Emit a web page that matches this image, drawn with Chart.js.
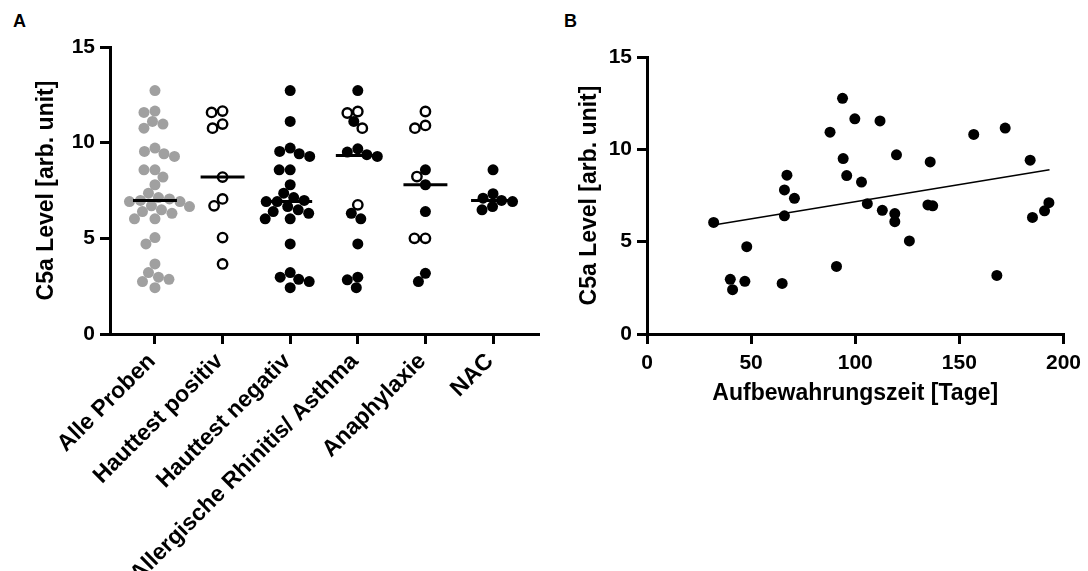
<!DOCTYPE html>
<html><head><meta charset="utf-8">
<script src="https://cdn.jsdelivr.net/npm/chart.js@4/dist/chart.umd.min.js"></script>
<style>
html,body{margin:0;padding:0;background:#fff;width:1088px;height:571px;overflow:hidden}
#wa{position:absolute;left:0;top:0;width:550px;height:571px}
#wb{position:absolute;left:550px;top:0;width:538px;height:571px}
.lbl{position:absolute;font:bold 18px "Liberation Sans",Arial,sans-serif;color:#000}
</style></head><body>
<div class="lbl" style="left:13px;top:11px">A</div>
<div class="lbl" style="left:564px;top:11px">B</div>
<div id="wa"><canvas id="ca" width="550" height="571"></canvas></div>
<div id="wb"><canvas id="cb" width="538" height="571"></canvas></div>
<script>
// ---------- Panel A data ----------
const categories = ['Alle Proben','Hauttest positiv','Hauttest negativ','Allergische Rhinitis/ Asthma','Anaphylaxie','NAC'];
const alleProben = [12.72,11.65,11.58,11.11,10.97,10.76,9.72,9.54,9.42,9.28,8.58,8.58,8.2,7.80,7.36,7.13,7.06,6.98,6.92,6.92,6.70,6.66,6.49,6.40,6.31,6.02,6.02,5.04,4.71,3.66,3.21,2.97,2.86,2.74,2.42];
const hauttestPositiv = [11.58,11.65,10.97,10.76,8.2,7.06,6.70,5.04,3.66];
const hauttestNegativ = [12.72,11.11,9.72,9.54,9.42,9.28,8.58,8.58,7.80,7.36,7.13,6.98,6.92,6.92,6.66,6.49,6.40,6.31,6.02,6.02,4.71,3.21,2.97,2.86,2.74,2.42];
const allergieOffen = [11.63,11.55,10.76,6.75];
const allergieVoll = [12.72,11.11,9.68,9.51,9.37,9.28,6.31,6.02,4.71,2.97,2.83,2.42];
const anaphylaxieOffen = [11.63,10.9,10.76,8.23,5.0,5.0];
const anaphylaxieVoll = [8.58,7.80,6.40,3.17,2.74];
const nacVoll = [8.58,7.33,7.10,6.98,6.92,6.66,6.49];
const yTicksA = [0,5,10,15];

// ---------- Panel B data ----------
const tage = [32.0,67.2,66.0,70.8,66.0,47.9,40.0,41.1,47.0,64.9,91.0,93.9,87.9,94.2,95.9,99.8,111.9,103.0,119.8,105.8,113.0,119.0,119.0,126.0,136.0,134.9,137.2,156.9,172.0,168.0,184.0,185.1,190.9,193.0];
const c5aLevel = [6.04,8.60,7.80,7.35,6.40,4.73,2.96,2.40,2.85,2.74,3.66,12.76,10.93,9.50,8.58,11.65,11.54,8.23,9.70,7.06,6.70,6.52,6.08,5.04,9.32,6.99,6.94,10.81,11.15,3.17,9.41,6.31,6.67,7.11];
const fitTage = [32, 193.3];
const fitLevel = [5.90, 8.89];
const xTicksB = [0,50,100,150,200];
const yTicksB = [0,5,10,15];

// ---------- shared styling ----------
const FAM = '"Liberation Sans", Arial, Helvetica, sans-serif';
const tickFont = {family:FAM, weight:'bold', size:21};
const catFont = {family:FAM, weight:'bold', size:23};
const titleFont = {family:FAM, weight:'bold', size:23};
const gridOpt = {display:true, drawOnChartArea:false, drawTicks:true, tickLength:10, lineWidth:3, color:'#000'};
const borderOpt = {display:true, width:3, color:'#000'};

const groupsA = [
  {gray: alleProben, open: [], filled: []},
  {gray: [], open: hauttestPositiv, filled: []},
  {gray: [], open: [], filled: hauttestNegativ},
  {gray: [], open: allergieOffen, filled: allergieVoll},
  {gray: [], open: anaphylaxieOffen, filled: anaphylaxieVoll},
  {gray: [], open: [], filled: nacVoll}
];

function median(a){
  const s = a.slice().sort((p,q)=>p-q); const n = s.length;
  return n % 2 ? s[(n-1)/2] : (s[n/2-1]+s[n/2])/2;
}

const grayPts = [], openPts = [], filledPts = [];
groupsA.forEach((g, gi) => {
  g.gray.forEach(v => grayPts.push({x:gi, y:v, g:gi}));
  g.open.forEach(v => openPts.push({x:gi, y:v, g:gi}));
  g.filled.forEach(v => filledPts.push({x:gi, y:v, g:gi}));
});

const medianSets = groupsA.map((g, gi) => {
  const m = median(g.gray.concat(g.open, g.filled));
  return {type:'line', data:[{x:gi-0.325, y:m},{x:gi+0.325, y:m}], borderColor:'#000', borderWidth:3,
          pointRadius:0, fill:false, order:0};
});

const chartA = new Chart(document.getElementById('ca'), {
  type: 'scatter',
  data: {
    datasets: [
      ...medianSets,
      {data: grayPts, pointRadius:5.5, pointBackgroundColor:'#a0a0a0', pointBorderColor:'#a0a0a0', pointBorderWidth:0, order:1},
      {data: openPts, pointRadius:4.7, pointBackgroundColor:'#fff', pointBorderColor:'#000', pointBorderWidth:2.4, order:1},
      {data: filledPts, pointRadius:5.5, pointBackgroundColor:'#000', pointBorderColor:'#000', pointBorderWidth:0, order:1}
    ]
  },
  options: {
    responsive:false, animation:false, events:[],
    layout: {padding:{top:47, right:12, left:0, bottom:0}},
    plugins: {legend:{display:false}, tooltip:{enabled:false}},
    scales: {
      x: {
        type:'linear', min:-0.665, max:5.665,
        afterBuildTicks: s => { s.ticks = categories.map((c,i)=>({value:i})); },
        afterFit: s => { s.height = 237; },
        ticks: {autoSkip:false, minRotation:45, maxRotation:45, font:catFont, color:'#000', padding:4, labelOffset:-3,
                callback: v => categories[v]},
        grid: gridOpt, border: borderOpt
      },
      y: {
        min:0, max:15,
        afterBuildTicks: s => { s.ticks = yTicksA.map(v=>({value:v})); },
        afterFit: s => { s.width = 110; },
        ticks: {font:tickFont, color:'#000', padding:5},
        grid: gridOpt, border: borderOpt,
        title: {display:true, text:'C5a Level [arb. unit]', font:titleFont, color:'#000', padding:{top:33, bottom:0}}
      }
    }
  }
});

// beeswarm layout (horizontal spreading of the points in each group)
(function swarm(chart){
  const xs = chart.scales.x, ys = chart.scales.y;
  const pxPerUnit = xs.getPixelForValue(1) - xs.getPixelForValue(0);
  const D = 10.6;
  groupsA.forEach((g, gi) => {
    const pts = grayPts.concat(openPts, filledPts).filter(p => p.g === gi)
      .sort((a,b) => b.y - a.y);
    const placed = [];
    pts.forEach(p => {
      const py = ys.getPixelForValue(p.y);
      let off = 0;
      for (let k = 0; k < 400; k++) {
        const o = (k % 2 ? -1 : 1) * Math.ceil(k/2) * 0.5;
        if (placed.every(q => Math.hypot(q.x - o, q.y - py) >= D)) { off = o; break; }
      }
      placed.push({x:off, y:py});
      p.x = gi + off / pxPerUnit;
    });
  });
  chart.update('none');
})(chartA);

// ---------- Panel B ----------
const pointsB = tage.map((t,i)=>({x:t, y:c5aLevel[i]}));
const fitB = fitTage.map((t,i)=>({x:t, y:fitLevel[i]}));

new Chart(document.getElementById('cb'), {
  type:'scatter',
  data: {
    datasets: [
      {type:'line', data: fitB, borderColor:'#000', borderWidth:1.6, pointRadius:0, fill:false, order:0},
      {data: pointsB, pointRadius:5.5, pointBackgroundColor:'#000', pointBorderColor:'#000', pointBorderWidth:0, order:1}
    ]
  },
  options: {
    responsive:false, animation:false, events:[],
    layout: {padding:{top:57, right:21, left:0, bottom:0}},
    plugins: {legend:{display:false}, tooltip:{enabled:false}},
    scales: {
      x: {
        type:'linear', min:0, max:200,
        afterBuildTicks: s => { s.ticks = xTicksB.map(v=>({value:v})); },
        afterFit: s => { s.height = 237; },
        ticks: {font:tickFont, color:'#000', padding:7, maxRotation:0},
        grid: gridOpt, border: borderOpt,
        title: {display:true, text:'Aufbewahrungszeit [Tage]', font:titleFont, color:'#000', padding:{top:0, bottom:164}}
      },
      y: {
        min:0, max:15,
        afterBuildTicks: s => { s.ticks = yTicksB.map(v=>({value:v})); },
        afterFit: s => { s.width = 97; },
        ticks: {font:tickFont, color:'#000', padding:5},
        grid: gridOpt, border: borderOpt,
        title: {display:true, text:'C5a Level [arb. unit]', font:titleFont, color:'#000', padding:{top:26, bottom:0}}
      }
    }
  }
});
</script>
</body></html>
